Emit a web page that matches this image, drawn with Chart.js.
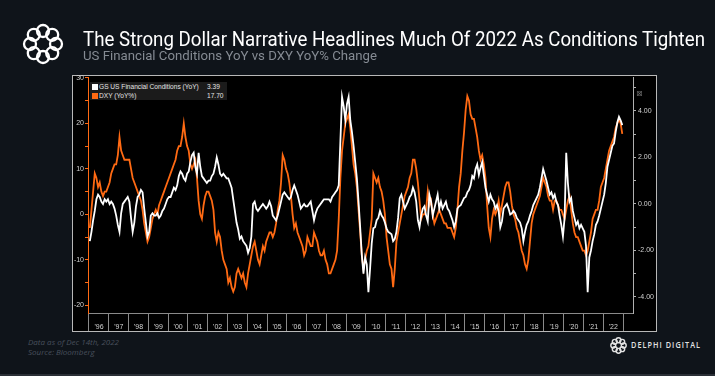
<!DOCTYPE html>
<html>
<head>
<meta charset="utf-8">
<script src="https://cdn.jsdelivr.net/npm/chart.js@4.4.0/dist/chart.umd.min.js"></script>
<style>
  html, body { margin: 0; padding: 0; width: 715px; height: 376px; overflow: hidden; background: #0f141a; }
  .abs { position: absolute; white-space: nowrap; transform-origin: 0 0; }
  #frame { position: absolute; left: 72px; top: 75px; width: 585px; height: 257px; box-sizing: border-box; border: 1px solid #b8b8b8; background: #000; }
  #chart { position: absolute; left: 0; top: 0; z-index: 1; }
  #title { left: 83px; top: 29px; font: 21px/21px Roboto, sans-serif; color: #fff; z-index: 2; }
  #subtitle { left: 83px; top: 50px; font: 12.6px/12.6px Roboto, sans-serif; color: #858b93; z-index: 2; }
  #legend { position: absolute; left: 90px; top: 82px; width: 137px; height: 18px; background: #1b1b1b; z-index: 2;
            font: 6.6px/9px 'Liberation Sans', Arial, sans-serif; color: #e4e4e4; }
  #legend .row { position: relative; height: 9px; }
  #legend .sw { position: absolute; left: 2px; top: 1.5px; width: 6px; height: 6px; }
  #legend .lab { position: absolute; left: 9px; top: 0; }
  #legend .val { position: absolute; left: 117px; top: 0; }
  #icon { left: 636px; top: 89px; font: 8px 'DejaVu Sans', sans-serif; color: #6a6a6a; z-index: 2; }
  .foot { left: 28px; font: italic 8px/9px 'Open Sans', sans-serif; color: #48505c; }
  #brand { left: 631px; top: 340px; font: 600 9px/10px 'Open Sans', sans-serif; color: #e2e2e2; letter-spacing: 1.3px; }
  #strip { position: absolute; left: 0; top: 374px; width: 715px; height: 2px; background: #2a2f36; }
</style>
</head>
<body>
<div id="frame"></div>
<canvas id="chart" width="715" height="376"></canvas>

<svg class="abs" style="left:22px;top:23px" width="42" height="42" viewBox="0 0 42 42">
  <g fill="none" stroke="#fff" stroke-width="2.3">
    <circle cx="21" cy="8" r="6"/><circle cx="30.2" cy="11.8" r="6"/>
    <circle cx="34" cy="21" r="6"/><circle cx="30.2" cy="30.2" r="6"/>
    <circle cx="21" cy="34" r="6"/><circle cx="11.8" cy="30.2" r="6"/>
    <circle cx="8" cy="21" r="6"/><circle cx="11.8" cy="11.8" r="6"/>
  </g>
</svg>
<div id="title" class="abs">The Strong Dollar Narrative Headlines Much Of 2022 As Conditions Tighten</div>
<div id="subtitle" class="abs">US Financial Conditions YoY vs DXY YoY% Change</div>

<div id="legend">
  <div class="row"><span class="sw" style="background:#fff"></span><span class="lab">GS US Financial Conditions (YoY)</span><span class="val">3.39</span></div>
  <div class="row"><span class="sw" style="background:#ff6a13"></span><span class="lab">DXY (YoY%)</span><span class="val">17.70</span></div>
</div>
<div id="icon" class="abs">⊠</div>

<div class="abs foot" style="top:337px">Data as of Dec 14th, 2022</div>
<div class="abs foot" style="top:347px">Source: Bloomberg</div>
<svg class="abs" style="left:610px;top:337px" width="17" height="17" viewBox="0 0 42 42">
  <g fill="none" stroke="#e2e2e2" stroke-width="3.5">
    <circle cx="21" cy="8" r="6"/><circle cx="30.2" cy="11.8" r="6"/>
    <circle cx="34" cy="21" r="6"/><circle cx="30.2" cy="30.2" r="6"/>
    <circle cx="21" cy="34" r="6"/><circle cx="11.8" cy="30.2" r="6"/>
    <circle cx="8" cy="21" r="6"/><circle cx="11.8" cy="11.8" r="6"/>
  </g>
</svg>
<div id="brand" class="abs">DELPHI DIGITAL</div>
<div id="strip"></div>

<script>
// monthly observations, Jan 1996 .. Dec 2022
const firstYear = 1996;
const yearLabels = ["'96","'97","'98","'99","'00","'01","'02","'03","'04","'05","'06","'07","'08",
                    "'09","'10","'11","'12","'13","'14","'15","'16","'17","'18","'19","'20","'21","'22"];
const leftTicks = [-20, -15, -10, -5, 0, 5, 10, 15, 20, 25, 30];
const rightTicks = [-4, -3, -2, -1, 0, 1, 2, 3, 4, 5];

// GS US Financial Conditions (YoY), right axis
const fciYoY = [
  -1.6, -1.2, -0.7, -0.3, 0.2, 0.4, 0.3, 0.1, 0.0, 0.2, 0.1, 0.2,        // 1996
  0.0, 0.1, 0.0, -0.2, -0.5, -0.9, -1.2, -0.4, 0.0, 0.1, 0.2, 0.3,       // 1997
  0.1, -0.6, -1.2, -0.8, -0.1, 0.3, 0.4, 0.6, 0.5, -0.2, -0.8, -1.4,     // 1998
  -1.2, -0.5, -0.4, -0.5, -0.5, -0.4, -0.6, -0.5, -0.3, -0.2, 0.0, 0.2,  // 1999
  0.3, 0.3, 0.5, 0.7, 0.6, 0.8, 1.2, 1.4, 1.3, 1.1, 1.0, 1.3,            // 2000
  1.4, 1.8, 2.1, 2.2, 1.6, 1.3, 2.2, 1.6, 1.2, 1.1, 1.0, 0.9,            // 2001
  1.0, 1.0, 1.2, 1.3, 1.6, 2.0, 1.7, 1.3, 1.2, 1.3, 1.2, 1.1,            // 2002
  1.1, 0.9, 0.7, 0.2, -0.3, -0.8, -1.1, -1.5, -1.4, -1.6, -1.7, -1.8,    // 2003
  -2.1, -1.9, -1.4, 0.0, 0.1, -0.2, -0.3, -0.2, -0.1, 0.0, -0.1, -0.2,   // 2004
  -0.1, 0.1, -0.1, -0.5, -0.6, -0.7, -0.5, -0.2, 0.1, 0.4, 0.5, 0.4,     // 2005
  0.3, 0.2, 0.3, 0.6, 0.8, 0.6, 0.4, 0.1, -0.2, -0.1, 0.0, -0.1,         // 2006
  -0.1, 0.0, 0.1, -0.3, -0.7, -0.4, -0.2, -0.1, 0.0, 0.1, 0.2, 0.2,      // 2007
  0.2, 0.2, 0.1, 0.3, 0.4, 0.5, 0.6, 0.8, 2.7, 4.6, 4.2, 3.6,            // 2008
  4.3, 4.6, 3.6, 3.1, 2.5, 1.8, 1.1, 0.1, -1.0, -2.2, -3.0, -2.3,        // 2009
  -2.6, -3.8, -2.8, -1.7, -1.05, -1.0, -0.7, -0.6, -0.3, -0.5, -0.6, -0.8, // 2010
  -1.05, -1.2, -1.25, -1.3, -1.6, -1.5, -1.2, -0.6, 0.25, 0.4, 0.1, -0.2,  // 2011
  -0.05, 0.1, 0.3, 0.4, 0.7, 0.5, 0.1, -0.7, -1.0, -0.5, -0.2, -0.1,     // 2012
  -0.5, -0.75, 0.4, 0.1, -0.5, -0.2, 0.1, 0.4, -0.2, 0.1, -0.2, -0.05,   // 2013
  0.1, -0.2, -0.3, -0.5, -0.7, -1.0, -0.75, -0.2, -0.1, -0.05, 0.1, 0.25, // 2014
  0.3, 0.5, 0.6, 0.8, 1.2, 1.1, 1.5, 1.7, 1.25, 1.55, 1.8, 1.25,         // 2015
  0.7, 0.4, 0.1, 0.4, 0.2, 0.1, -0.2, -0.05, -0.3, -1.0, -0.75, -0.2,    // 2016
  -0.1, 0.0, -0.2, -0.45, -0.4, -0.3, -0.4, -0.6, -0.7, -0.8, -1.05, -1.6, // 2017
  -1.2, -0.9, -0.75, -0.5, -0.3, -0.05, 0.1, 0.25, 0.4, 0.7, 1.1, 1.5,   // 2018
  1.25, 1.0, 0.7, 0.4, 0.5, 0.25, 0.4, 0.1, -0.05, -0.5, -0.9, -1.4,     // 2019
  -0.6, 2.2, 0.9, 0.1, 0.25, -0.3, -0.6, -0.9, -0.75, -1.05, -0.9, -1.05, // 2020
  -1.2, -1.8, -3.8, -2.3, -2.0, -1.6, -1.3, -0.9, -0.75, -0.5, -0.2, 0.1, // 2021
  0.4, 0.9, 1.6, 1.9, 2.2, 2.5, 2.6, 3.1, 3.5, 3.75, 3.6, 3.39           // 2022
];

// DXY (YoY%), left axis
const dxyYoY = [
  -3, 1, 5, 9, 8, 6, 7, 5, 4, 5, 5, 6,                  // 1996
  7, 9, 10, 11, 11, 13, 17, 14, 13, 12, 12, 12,         // 1997
  12, 10, 8, 7, 6, 5, 4, 3, 1, -2, -4, -6,              // 1998
  -5, -3, -1, 0, 1, 0, 2, 3, 4, 5, 6, 7,                // 1999
  8, 9, 10, 11, 12, 14, 15, 15, 17, 20, 17, 15,         // 2000
  14, 11, 10, 11, 12, 8, 3, 0, -1, 2, 4, 5,             // 2001
  5, 4, 3, 1, -4, -6, -4, -5, -8, -10, -11, -12,        // 2002
  -15, -14, -16, -17, -16, -13, -12, -13, -14, -13, -15, -16, // 2003
  -13, -11, -9, -7, -6, -8, -10, -11, -9, -7, -8, -6,   // 2004
  -5, -4, -4, -5, -4, -2, 1, 3, 7, 13, 12, 10,          // 2005
  9, 7, 4, 0, -3, -2, -4, -5, -6, -7, -9, -8,           // 2006
  -5, -6, -7, -7, -4, -5, -6, -8, -9, -9, -8, -10,      // 2007
  -11, -13, -13, -12, -11, -10, -8, -1, 8, 14, 17, 20,  // 2008
  21, 22, 19, 15, 11, 9, 6, 1, -4, -9, -12, -10,        // 2009
  -8, -7, -4, -1, 9, 8, 7, 8, 6, 5, 3, 0,               // 2010
  -5, -8, -11, -12, -16, -12, -6, -4, -2, 0, 2, 4,      // 2011
  5, 6, 8, 9, 12, 12, 10, 7, 3, -1, 0, 0,               // 2012
  1, 5, 2, 3, 0, -2, -1, 0, 1, 0, -1, -2,               // 2013
  -2, -3, -3, -3, -4, -5, -3, 1, 6, 9, 14, 18,          // 2014
  23, 26, 25, 22, 21, 21, 19, 17, 14, 12, 13, 11,       // 2015
  8, 2, -3, -5, -1, 1, 0, 1, 3, 0, 2, 4,                // 2016
  6, 7, 7, 5, 2, 0, -1, -3, -4, -6, -8, -9,             // 2017
  -11, -12, -10, -6, -2, 0, 1, 2, 3, 4, 6, 8,           // 2018
  7, 6, 4, 3, 3, 1, 3, 3, 2, 1, 1, 0,                   // 2019
  -1, 1, 3, 4, 1, -2, -4, -5, -5, -6, -7, -8,           // 2020
  -8, -9, -8, -6, -4, -1, 0, 1, 1, 3, 6, 7,             // 2021
  8, 10, 12, 14, 15, 16, 17, 19, 20, 21, 20, 17.7       // 2022
];

const toPoints = arr => arr.map((v, i) => ({ x: firstYear + (i + 0.5) / 12, y: v }));
const yearTicks = yearLabels.map((l, i) => firstYear + i).concat([firstYear + yearLabels.length]);

const tickFont = { family: "'Liberation Sans', Arial, sans-serif", size: 7 };

new Chart(document.getElementById('chart'), {
    type: 'line',
    data: {
        datasets: [{
            label: 'GS US Financial Conditions (YoY)',
            data: toPoints(fciYoY),
            yAxisID: 'yR',
            borderColor: '#ffffff',
            borderWidth: 1.8,
            pointRadius: 0,
            tension: 0,
            order: 0
        }, {
            label: 'DXY (YoY%)',
            data: toPoints(dxyYoY),
            yAxisID: 'yL',
            borderColor: '#ff6a13',
            borderWidth: 1.8,
            pointRadius: 0,
            tension: 0,
            order: 1
        }]
    },
    options: {
        responsive: false,
        animation: false,
        devicePixelRatio: 1,
        layout: { padding: { left: 73, right: 59, top: 77, bottom: 45 } },
        plugins: { legend: { display: false }, tooltip: { enabled: false } },
        scales: {
            x: {
                type: 'linear', min: 1995.95, max: 2023.5,
                afterBuildTicks: s => { s.ticks = yearTicks.map(v => ({ value: v })); },
                afterFit: s => { s.height = 18; },
                ticks: {
                    autoSkip: false, maxRotation: 0, color: '#d2d2d2', font: tickFont,
                    labelOffset: 10, padding: -8,
                    callback: v => yearLabels[v - firstYear] || ''
                },
                grid: { drawOnChartArea: false, drawTicks: true, tickLength: 18, color: '#8a8a8a', lineWidth: 1 },
                border: { display: true, color: '#8a8a8a' }
            },
            yL: {
                position: 'left', min: -21.7, max: 30.2,
                afterBuildTicks: s => { s.ticks = leftTicks.map(v => ({ value: v })); },
                afterFit: s => { s.width = 15; },
                ticks: { color: '#d2d2d2', font: tickFont, padding: 1, callback: v => (v % 10 === 0 ? String(v) : '') },
                grid: { drawOnChartArea: false, tickLength: 3, color: '#ff6a13' },
                border: { color: '#ff6a13' }
            },
            yR: {
                position: 'right', min: -4.69, max: 5.46,
                afterBuildTicks: s => { s.ticks = rightTicks.map(v => ({ value: v })); },
                afterFit: s => { s.width = 23; },
                ticks: { color: '#d2d2d2', font: tickFont, padding: 2, callback: v => (v % 2 === 0 ? v.toFixed(2) : '') },
                grid: { drawOnChartArea: false, tickLength: 3, color: '#b0b0b0' },
                border: { color: '#b0b0b0' }
            }
        }
    }
});

// squeeze header texts to the widths they take in the picture
function fitWidth(id, w) {
    const el = document.getElementById(id);
    el.style.transform = '';
    const r = el.getBoundingClientRect().width;
    el.style.transform = 'scaleX(' + (w / r) + ')';
}
function fitAll() {
    fitWidth('title', 622);
    fitWidth('subtitle', 294);
    fitWidth('brand', 70);
}
fitAll();
document.fonts.ready.then(fitAll);
</script>
</body>
</html>
